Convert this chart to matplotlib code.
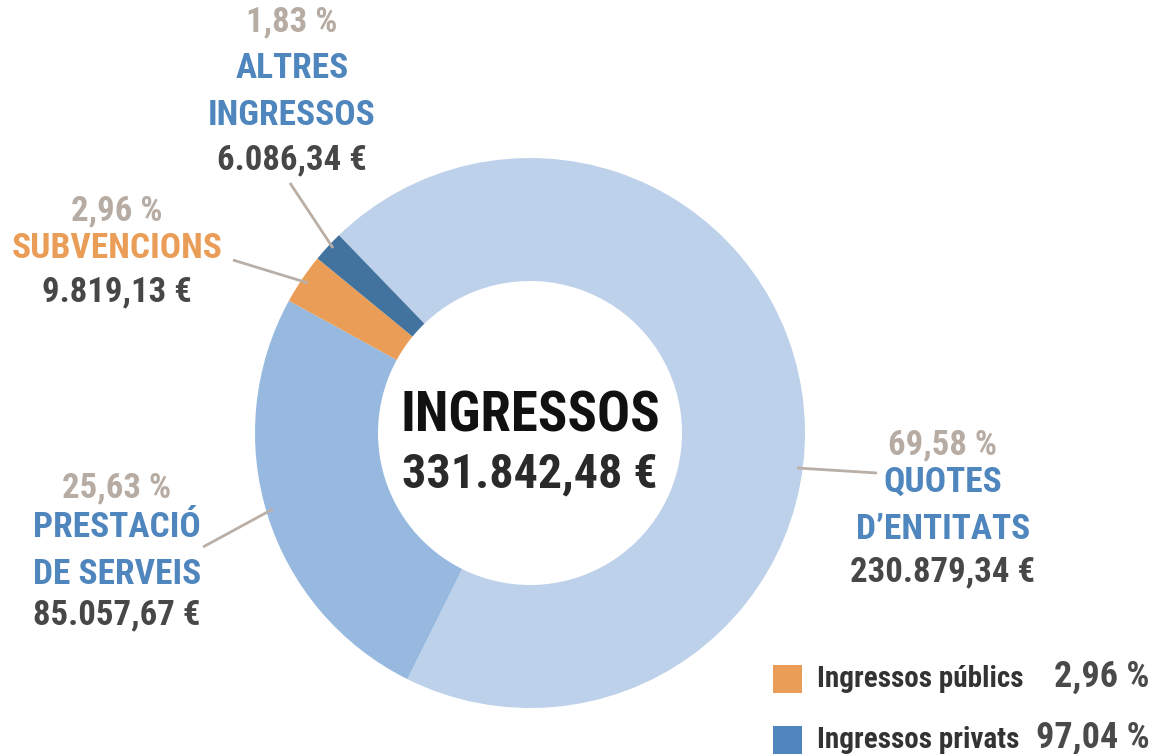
import matplotlib
matplotlib.use("Agg")
import matplotlib.pyplot as plt
from matplotlib import font_manager as fm
from matplotlib.patches import Rectangle

# ---- data ----
categories = ["QUOTES\nD’ENTITATS", "PRESTACIÓ\nDE SERVEIS", "SUBVENCIONS", "ALTRES\nINGRESSOS"]
values = [230879.34, 85057.67, 9819.13, 6086.34]
value_labels = ["230.879,34 €", "85.057,67 €", "9.819,13 €", "6.086,34 €"]
pct_labels = ["69,58 %", "25,63 %", "2,96 %", "1,83 %"]
total_label = "331.842,48 €"
legend_names = ["Ingressos públics", "Ingressos privats"]
legend_pcts = ["2,96 %", "97,04 %"]

# ---- style ----
slice_colors = ["#BED1EA", "#97B9DF", "#E99D56", "#42729E"]
name_colors = ["#4F86BE", "#4F86BE", "#E99D56", "#4F86BE"]
legend_colors = ["#E99D56", "#4F86BE"]
PCT_COLOR = "#B7ACA3"
VAL_COLOR = "#474747"
LINE_COLOR = "#B9AFA7"

W, H = 1155, 754
CX, CY, R, RIN = 530, 433, 275, 152

# label blocks (pixel coords: x centre, y of pct line, y of name, y of value)
label_x = [943, 117, 117, 292]
pct_y = [445, 488, 211, 22]
name_y = [506, 551, 248, 92]
val_y = [572, 615, 292, 160]
# leader lines: (x0, y0) near label -> (x1, y1) on ring
leaders = [((877, 473), (797, 468)), ((203, 547), (273, 509)),
           ((233, 260), (308, 283)), ((290, 183), (333, 248))]


def pick_font():
    fonts = fm.fontManager.ttflist
    names = {f.name for f in fonts}
    for n in ["Roboto Condensed", "Liberation Sans Narrow", "Open Sans Condensed"]:
        if n in names:
            return n, "normal"
    for f in fonts:
        if f.name == "DejaVu Sans" and f.stretch == "condensed":
            return "DejaVu Sans", "condensed"
    return "Roboto", "normal"


FONT, STRETCH = pick_font()
plt.rcParams["font.family"] = [FONT, "DejaVu Sans"]
plt.rcParams["font.weight"] = "bold"
plt.rcParams["font.stretch"] = STRETCH

fig = plt.figure(figsize=(W / 100, H / 100), dpi=100)
ax = fig.add_axes([0, 0, 1, 1])

ax.pie(values, colors=slice_colors, startangle=134, counterclock=False,
       radius=R, center=(CX, H - CY),
       wedgeprops=dict(width=R - RIN, edgecolor="none"))

ax.set_xlim(0, W)
ax.set_ylim(0, H)
ax.set_aspect("equal")
ax.axis("off")

# centre
ax.text(CX, H - 416, "INGRESSOS", ha="center", va="center", fontsize=39.5, color="#111111")
ax.text(CX, H - 474, total_label, ha="center", va="center", fontsize=34.5, color="#2A2A2A")

for i in range(len(values)):
    (x0, y0), (x1, y1) = leaders[i]
    ax.plot([x0, x1], [H - y0, H - y1], color=LINE_COLOR, lw=2, solid_capstyle="butt")
    ax.text(label_x[i], H - pct_y[i], pct_labels[i], ha="center", va="center",
            fontsize=25, color=PCT_COLOR)
    ax.text(label_x[i], H - name_y[i], categories[i], ha="center", va="center",
            fontsize=25.5, color=name_colors[i], linespacing=1.55)
    ax.text(label_x[i], H - val_y[i], value_labels[i], ha="center", va="center",
            fontsize=25, color=VAL_COLOR)

# legend
leg_y = [679, 740]
for i in range(len(legend_names)):
    ax.add_patch(Rectangle((773, H - leg_y[i] - 14), 29, 28, facecolor=legend_colors[i],
                           edgecolor="none"))
    ax.text(817, H - leg_y[i], legend_names[i], ha="left", va="center",
            fontsize=21, color="#333333")
    ax.text(1150, H - leg_y[i] + 2, legend_pcts[i], ha="right", va="center",
            fontsize=26, color="#4A4A4A")

fig.savefig("out.png", dpi=100, facecolor="white")
